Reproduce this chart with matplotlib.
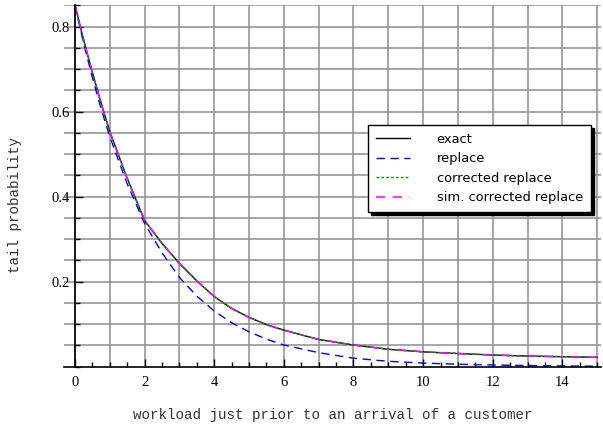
import matplotlib
matplotlib.use('Agg')
import numpy as np
from matplotlib import pyplot as plt
from matplotlib.ticker import MultipleLocator

workload = [0, 0.25, 0.5, 0.75, 1, 1.5, 2, 2.5, 3, 3.5, 4, 4.5, 5, 5.5,
            6, 7, 8, 9, 10, 11, 12, 13, 14, 15]

# tail probabilities
exact = [0.850, 0.768, 0.692, 0.620, 0.553, 0.443, 0.344, 0.290, 0.243, 0.202,
         0.165, 0.137, 0.116, 0.099, 0.086, 0.064, 0.051, 0.041, 0.035, 0.031,
         0.0275, 0.025, 0.0235, 0.022]
replace = [0.850, 0.760, 0.680, 0.607, 0.541, 0.430, 0.337, 0.268, 0.210, 0.166,
           0.131, 0.1035, 0.082, 0.065, 0.051, 0.033, 0.020, 0.0127, 0.0085, 0.0058,
           0.0040, 0.0027, 0.0018, 0.0012]
corrected = [0.850, 0.768, 0.692, 0.620, 0.553, 0.443, 0.344, 0.290, 0.243, 0.202,
             0.165, 0.137, 0.116, 0.099, 0.086, 0.064, 0.051, 0.041, 0.035, 0.031,
             0.0275, 0.025, 0.0235, 0.022]
sim_corrected = [0.850, 0.768, 0.692, 0.620, 0.553, 0.443, 0.344, 0.290, 0.243, 0.202,
                 0.165, 0.137, 0.116, 0.099, 0.086, 0.064, 0.051, 0.041, 0.035, 0.031,
                 0.0275, 0.025, 0.0235, 0.022]

fig = plt.figure(figsize=(6.03, 4.28), dpi=100)
ax = fig.add_axes([64 / 603, 1 - 366.7 / 428, (601 - 64) / 603, (366.7 - 5) / 428])
ax.set_xlim(-0.316, 15.11)
ax.set_ylim(0, 0.851)

# grid every 1 in x and 0.05 in y
ax.xaxis.set_minor_locator(MultipleLocator(0.5))
ax.yaxis.set_minor_locator(MultipleLocator(0.05))
for gx in np.arange(0, 16, 1):
    ax.axvline(gx, color='#8e8e8e', lw=1.1, zorder=0)
for gy in np.arange(0.05, 0.86, 0.05):
    ax.axhline(gy, color='#8e8e8e', lw=1.1, zorder=0)

ax.plot(workload, exact, color='black', lw=1.0, label='exact')
ax.plot(workload, replace, color='#0000ff', lw=1.0, ls=(0, (6, 4)), label='replace')
ax.plot(workload, corrected, color='#009900', lw=1.0, ls=(0, (2, 1.5)),
        label='corrected replace')
ax.plot(workload, sim_corrected, color='#ff00ff', lw=1.1,
        ls=(0, (6, 5, 6, 5, 1.5, 5)), label='sim. corrected replace')

# Mathematica-like axes crossing at the origin
ax.spines['top'].set_visible(False)
ax.spines['right'].set_visible(False)
ax.spines['left'].set_position(('data', 0))
ax.spines['left'].set_linewidth(1.2)
ax.spines['bottom'].set_linewidth(1.2)

ax.set_xticks([0, 2, 4, 6, 8, 10, 12, 14])
ax.set_yticks([0.2, 0.4, 0.6, 0.8])
ax.set_yticklabels(['0.2', '0.4', '0.6', '0.8'])
ax.tick_params(which='major', direction='in', length=6, width=1.0)
ax.tick_params(which='minor', direction='in', length=3.5, width=1.0)
ax.tick_params(axis='x', pad=7)
ax.tick_params(axis='y', pad=4)
for lab in ax.get_xticklabels() + ax.get_yticklabels():
    lab.set_family('Liberation Serif')
    lab.set_fontsize(10.5)

fig.text(333 / 603, 1 - 415 / 428, 'workload just prior to an arrival of a customer',
         family='Liberation Mono', fontsize=10.3, color='#333333',
         ha='center', va='center')
fig.text(15 / 603, 1 - 205 / 428, 'tail probability',
         family='Liberation Mono', fontsize=10.3, color='#333333',
         ha='center', va='center', rotation=90)

leg = ax.legend(loc='upper left', bbox_to_anchor=(368 / 603, 1 - 125 / 428),
                bbox_transform=fig.transFigure, borderaxespad=0,
                fancybox=False, framealpha=1, edgecolor='black',
                prop={'family': 'DejaVu Sans', 'size': 9.4},
                handlelength=2.6, handletextpad=2.05, borderpad=0.6,
                labelspacing=0.5,
                shadow={'color': 'black', 'alpha': 1, 'ox': 2.2, 'oy': -2.2})
leg.get_frame().set_linewidth(1.0)

fig.savefig('out.png', dpi=100)
